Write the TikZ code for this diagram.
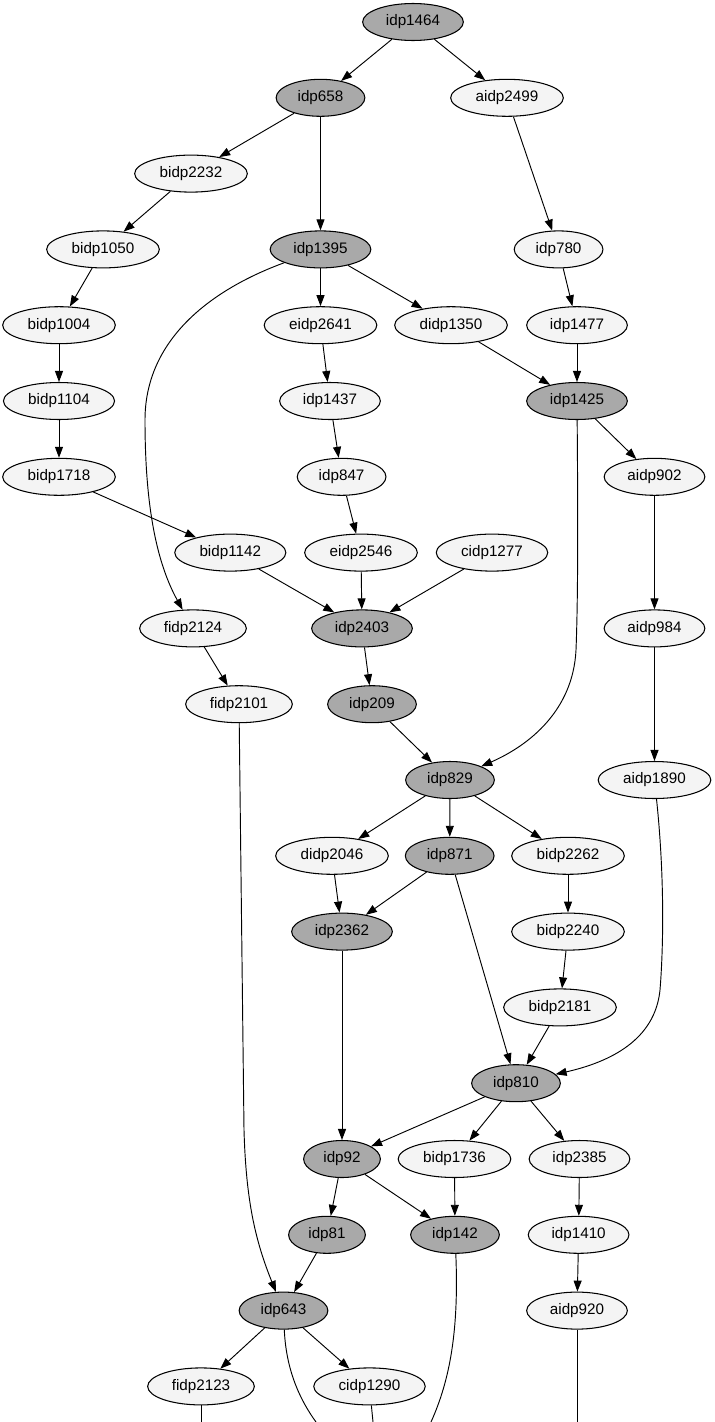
\documentclass[tikz,border=0pt]{standalone}
\usepackage{fontspec}
\setmainfont{Liberation Sans}
\usetikzlibrary{shapes.geometric, arrows.meta}
\definecolor{nodegray}{HTML}{A9A9A9}
\definecolor{nodewhite}{HTML}{F4F4F4}

\begin{document}
\begin{tikzpicture}[
  x=0.03cm, y=0.03cm,
  plain/.style={ellipse, draw=black, line width=0.9pt, fill=nodewhite, minimum height=1.11cm, inner xsep=0.255cm, inner ysep=1pt, font=\fontsize{13}{15}\selectfont},
  hub/.style={plain, fill=nodegray},
  arrow/.style={-{Triangle[length=0.33cm, width=0.24cm]}, line width=0.8pt},
  line/.style={line width=0.8pt}
]
\useasboundingbox (0,0) rectangle (714,-1422);

% Upper part
\node[hub] (idp1464) at (413,-22) {idp1464};
\node[hub] (idp658) at (320.5,-97.8) {idp658};
\node[plain] (aidp2499) at (507,-97.8) {aidp2499};
\node[plain] (bidp2232) at (191,-173.6) {bidp2232};
\node[plain] (bidp1050) at (103,-249.4) {bidp1050};
\node[hub] (idp1395) at (320.5,-249.4) {idp1395};
\node[plain] (idp780) at (558.6,-249.4) {idp780};
\node[plain] (bidp1004) at (59,-325.2) {bidp1004};
\node[plain] (eidp2641) at (320.5,-325.2) {eidp2641};
\node[plain] (didp1350) at (451,-325.2) {didp1350};
\node[plain] (idp1477) at (577,-325.2) {idp1477};
\node[plain] (bidp1104) at (59,-401) {bidp1104};
\node[plain] (idp1437) at (330,-401) {idp1437};
\node[hub] (idp1425) at (577,-401) {idp1425};
\node[plain] (bidp1718) at (59,-476.8) {bidp1718};
\node[plain] (idp847) at (341.6,-476.8) {idp847};
\node[plain] (aidp902) at (654.5,-476.8) {aidp902};
\node[plain] (bidp1142) at (230.3,-552.6) {bidp1142};
\node[plain] (eidp2546) at (361,-552.6) {eidp2546};
\node[plain] (cidp1277) at (492,-552.6) {cidp1277};
\node[plain] (fidp2124) at (193,-628.4) {fidp2124};
\node[hub] (idp2403) at (362,-628.4) {idp2403};
\node[plain] (aidp984) at (654.5,-628.4) {aidp984};
\node[plain] (fidp2101) at (239,-704.2) {fidp2101};
\node[hub] (idp209) at (372,-704.2) {idp209};
% Middle part
\node[hub] (idp829) at (450,-780) {idp829};
\node[plain] (aidp1890) at (654.5,-780) {aidp1890};
\node[plain] (didp2046) at (332,-855.8) {didp2046};
\node[hub] (idp871) at (449.7,-855.8) {idp871};
\node[plain] (bidp2262) at (568,-855.8) {bidp2262};
\node[hub] (idp2362) at (342,-931.6) {idp2362};
\node[plain] (bidp2240) at (568,-931.6) {bidp2240};
\node[plain] (bidp2181) at (560,-1007.4) {bidp2181};
\node[hub] (idp810) at (516,-1083.2) {idp810};
% Lower part
\node[hub] (idp92) at (342,-1159) {idp92};
\node[plain] (bidp1736) at (454.5,-1159) {bidp1736};
\node[plain] (idp2385) at (579.5,-1159) {idp2385};
\node[hub] (idp81) at (327,-1234.8) {idp81};
\node[hub] (idp142) at (455,-1234.8) {idp142};
\node[plain] (idp1410) at (578.6,-1234.8) {idp1410};
\node[hub] (idp643) at (283.5,-1310.6) {idp643};
\node[plain] (aidp920) at (577,-1310.6) {aidp920};
\node[plain] (fidp2123) at (201,-1386.4) {fidp2123};
\node[plain] (cidp1290) at (369.5,-1386.4) {cidp1290};
% Edges leaving the picture
\coordinate (e2123) at (201,-1422);
\coordinate (e643) at (316,-1422);
\coordinate (e1290) at (373,-1422);
\coordinate (e142) at (431,-1422);
\coordinate (e920) at (577,-1422);

% Connections
\draw[arrow] (idp1464) -- (idp658);
\draw[arrow] (idp1464) -- (aidp2499);
\draw[arrow] (idp658) -- (bidp2232);
\draw[arrow] (idp658) -- (idp1395);
\draw[arrow] (aidp2499) -- (idp780);
\draw[arrow] (bidp2232) -- (bidp1050);
\draw[arrow] (bidp1050) -- (bidp1004);
\draw[arrow] (bidp1004) -- (bidp1104);
\draw[arrow] (bidp1104) -- (bidp1718);
\draw[arrow] (bidp1718) -- (bidp1142);
\draw[arrow] (idp1395) .. controls (210,-290) and (145,-340) .. (145,-420) .. controls (145,-500) and (155,-560) .. (fidp2124);
\draw[arrow] (idp1395) -- (eidp2641);
\draw[arrow] (idp1395) -- (didp1350);
\draw[arrow] (idp780) -- (idp1477);
\draw[arrow] (eidp2641) -- (idp1437);
\draw[arrow] (didp1350) -- (idp1425);
\draw[arrow] (idp1477) -- (idp1425);
\draw[arrow] (idp1437) -- (idp847);
\draw[arrow] (idp847) -- (eidp2546);
\draw[arrow] (idp1425) .. controls (578,-520) and (578,-600) .. (576,-650) .. controls (573,-710) and (530,-745) .. (idp829);
\draw[arrow] (idp1425) -- (aidp902);
\draw[arrow] (aidp902) -- (aidp984);
\draw[arrow] (aidp984) -- (aidp1890);
\draw[arrow] (bidp1142) -- (idp2403);
\draw[arrow] (eidp2546) -- (idp2403);
\draw[arrow] (cidp1277) -- (idp2403);
\draw[arrow] (fidp2124) -- (fidp2101);
\draw[arrow] (idp2403) -- (idp209);
\draw[arrow] (idp209) -- (idp829);
\draw[arrow] (fidp2101) -- (244,-1130) .. controls (246,-1200) and (255,-1240) .. (idp643);
\draw[arrow] (idp829) -- (didp2046);
\draw[arrow] (idp829) -- (idp871);
\draw[arrow] (idp829) -- (bidp2262);
\draw[arrow] (aidp1890) .. controls (664,-870) and (664,-940) .. (660,-990) .. controls (655,-1040) and (610,-1062) .. (idp810);
\draw[arrow] (didp2046) -- (idp2362);
\draw[arrow] (idp871) -- (idp2362);
\draw[arrow] (idp871) -- (idp810);
\draw[arrow] (bidp2262) -- (bidp2240);
\draw[arrow] (bidp2240) -- (bidp2181);
\draw[arrow] (bidp2181) -- (idp810);
\draw[arrow] (idp2362) -- (idp92);
\draw[arrow] (idp810) -- (idp92);
\draw[arrow] (idp810) -- (bidp1736);
\draw[arrow] (idp810) -- (idp2385);
\draw[arrow] (idp92) -- (idp81);
\draw[arrow] (idp92) -- (idp142);
\draw[arrow] (bidp1736) -- (idp142);
\draw[arrow] (idp2385) -- (idp1410);
\draw[arrow] (idp1410) -- (aidp920);
\draw[arrow] (idp81) -- (idp643);
\draw[arrow] (idp643) -- (fidp2123);
\draw[arrow] (idp643) -- (cidp1290);
\draw[line] (fidp2123) -- (e2123);
\draw[line] (idp643) .. controls (286,-1370) and (300,-1400) .. (e643);
\draw[line] (cidp1290) -- (e1290);
\draw[line] (idp142) .. controls (459,-1330) and (450,-1380) .. (e142);
\draw[line] (aidp920) -- (e920);
\end{tikzpicture}
\end{document}
